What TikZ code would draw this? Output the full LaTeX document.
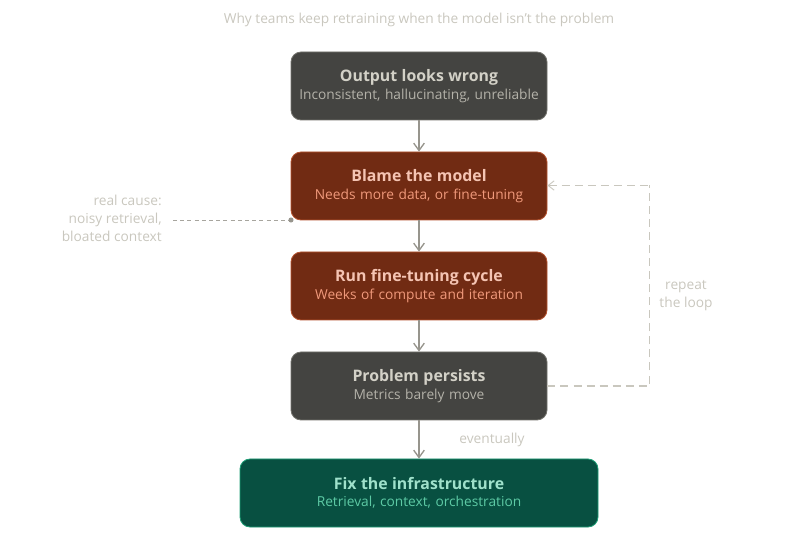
\documentclass[tikz,border=0pt]{standalone}
\usepackage{fontspec}
\setmainfont{Open Sans}
\usetikzlibrary{arrows.meta}
\definecolor{grayfill}{HTML}{444441}\definecolor{grayline}{HTML}{73726C}
\definecolor{graytitle}{HTML}{D3D1C7}\definecolor{graysub}{HTML}{B4B2A9}
\definecolor{redfill}{HTML}{712B13}\definecolor{redline}{HTML}{B5532F}
\definecolor{redtitle}{HTML}{F5C4B3}\definecolor{redsub}{HTML}{F0997B}
\definecolor{greenfill}{HTML}{085041}\definecolor{greenline}{HTML}{1D9E75}
\definecolor{greentitle}{HTML}{9FE1CB}\definecolor{greensub}{HTML}{5DCAA5}
\definecolor{notetext}{HTML}{C9C7BE}\definecolor{flow}{HTML}{97958D}
\tikzset{
  x=0.75pt,y=-0.75pt,
  boxbase/.style={rounded corners=7.5pt,line width=0.6pt,minimum height=51pt,inner sep=0pt,align=center,text width=192pt},
  graybox/.style={boxbase,draw=grayline,fill=grayfill},
  redbox/.style={boxbase,draw=redline,fill=redfill},
  greenbox/.style={boxbase,draw=greenline,fill=greenfill,text width=268.5pt},
  flowline/.style={draw=flow,line width=1.1pt,-{Straight Barb[length=5.5pt,width=8pt,line width=1pt]}},
  looptext/.style={text=notetext,font=\fontsize{10.3}{13.5}\selectfont,inner sep=0pt},
  loopline/.style={draw=notetext,line width=0.8pt,dash pattern=on 6pt off 3.8pt},
  causeline/.style={draw=flow!85,line width=0.7pt,dash pattern=on 3pt off 2.4pt},
}
\newcommand{\boxtext}[4]{{\color{#1}\fontsize{11.9}{14}\selectfont\bfseries\vphantom{Ag}#3}\\[1.2pt]{\color{#2}\fontsize{10.3}{13}\selectfont #4}}
\begin{document}
\begin{tikzpicture}
\useasboundingbox (0,0) rectangle (804,552);
\node[looptext,anchor=center] (title) at (419,20) {Why teams keep retraining when the model isn't the problem};
\node[graybox] (output) at (419,86) {\boxtext{graytitle}{graysub}{Output looks wrong}{Inconsistent, hallucinating, unreliable}};
\node[redbox] (blame) at (419,186) {\boxtext{redtitle}{redsub}{Blame the model}{Needs more data, or fine-tuning}};
\node[redbox] (tune) at (419,286) {\boxtext{redtitle}{redsub}{Run fine-tuning cycle}{Weeks of compute and iteration}};
\node[graybox] (persist) at (419,386) {\boxtext{graytitle}{graysub}{Problem persists}{Metrics barely move}};
\node[greenbox] (fix) at (419,493) {\boxtext{greentitle}{greensub}{Fix the infrastructure}{Retrieval, context, orchestration}};
\node[looptext,align=right,anchor=east] (cause) at (162,218) {real cause:\\noisy retrieval,\\bloated context};
\node[looptext,align=center] (repeat) at (686,296) {repeat\\the loop};
\node[looptext] (eventually) at (492,440) {eventually};
\draw[flowline] (output) -- (blame);
\draw[flowline] (blame) -- (tune);
\draw[flowline] (tune) -- (persist);
\draw[flowline] (persist) -- (fix);
\coordinate (causeA) at (173,220);
\coordinate (dot) at (291,220);
\coordinate (loopA) at (649.5,386);
\coordinate (loopB) at (649.5,185.5);
\draw[causeline] (causeA) -- (dot);
\fill[flow] (dot) circle (1.9pt);
\draw[loopline] (persist.east |- loopA) -- (loopA) -- (loopB);
\draw[loopline,{Straight Barb[length=4.5pt,width=7pt,line width=0.7pt]}-] (blame.east |- loopB) -- (loopB);
\end{tikzpicture}
\end{document}
